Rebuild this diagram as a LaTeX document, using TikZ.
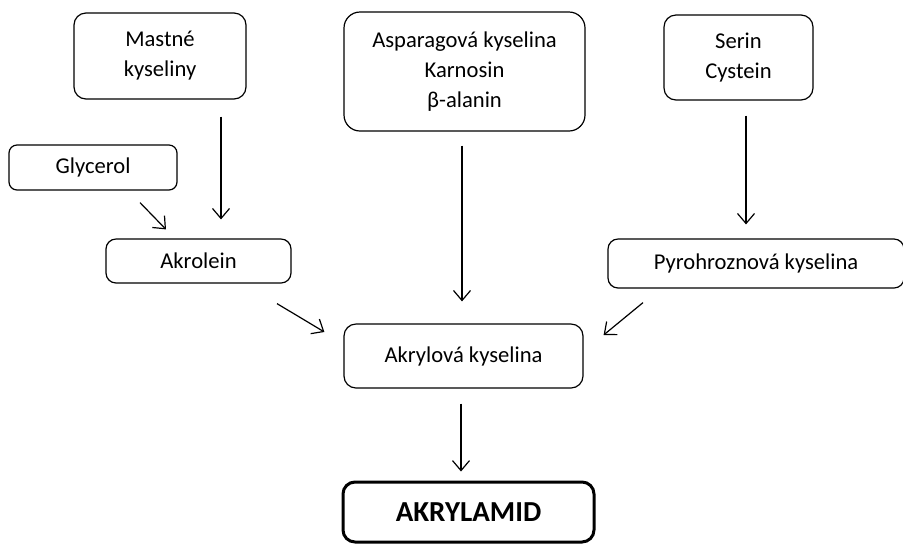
\documentclass[tikz,border=0pt]{standalone}
\usepackage{fontspec}
\setmainfont{Carlito}
\usetikzlibrary{arrows.meta, calc}

\begin{document}
\begin{tikzpicture}[x=0.5pt, y=-0.5pt,
    box/.style={draw, rounded corners=6pt, line width=0.6pt, align=center,
        inner sep=0pt, font=\fontsize{11.3}{15}\selectfont},
    arr/.style={-{Straight Barb[length=5pt, width=8.5pt]}, line width=0.6pt}]
% Fix the page size
\useasboundingbox (0,0) rectangle (903,543);

% Starting substances
\node[box, minimum width=86pt, minimum height=43pt] (mast) at (160,56) {Mastné\\kyseliny};
\node[box, minimum width=84pt, minimum height=22.5pt, rounded corners=4pt] (glyc) at (93,167.5) {Glycerol};
\node[box, minimum width=120.5pt, minimum height=59.5pt, rounded corners=8pt] (aspa) at (464.5,71.5) {Asparagová kyselina\\Karnosin\\β-alanin};
\node[box, minimum width=74.5pt, minimum height=42.5pt] (serin) at (738.5,57.5) {Serin\\Cystein};

% Intermediates
\node[box, minimum width=92.5pt, minimum height=22pt, rounded corners=5pt] (akro) at (198.5,261) {Akrolein};
\node[box, minimum width=148pt, minimum height=24.5pt, rounded corners=5pt] (pyro) at (756,263.5) {Pyrohroznová kyselina};
\node[box, minimum width=119.5pt, minimum height=32pt] (akry) at (463.5,356) {Akrylová kyselina};

% Product
\node[box, minimum width=125.5pt, minimum height=30pt, line width=1.5pt,
    font=\fontsize{14.5}{17}\selectfont\bfseries] (amid) at (468.5,512) {AKRYLAMID};

% Draw arrows
\draw[arr] ($(mast.south)+(61,17)$) -- ($(akro.north)+(22.5,-19)$);
\draw[arr] ($(glyc.south)+(47,12)$) -- ($(akro.north)+(-32.5,-9)$);
\draw[arr] ($(aspa.south)+(-2.5,14)$) -- ($(akry.north)+(-1.5,-22)$);
\draw[arr] ($(serin.south)+(7.5,15)$) -- ($(pyro.north)+(-10,-14)$);
\draw[arr] ($(akro.south)+(78.5,20)$) -- ($(akry.west)+(-19,-24)$);
\draw[arr] ($(pyro.south)+(-113,14)$) -- ($(akry.east)+(20,-21)$);
\draw[arr] ($(akry.south)+(-2.5,15)$) -- ($(amid.north)+(-7.5,-9)$);

\end{tikzpicture}
\end{document}
